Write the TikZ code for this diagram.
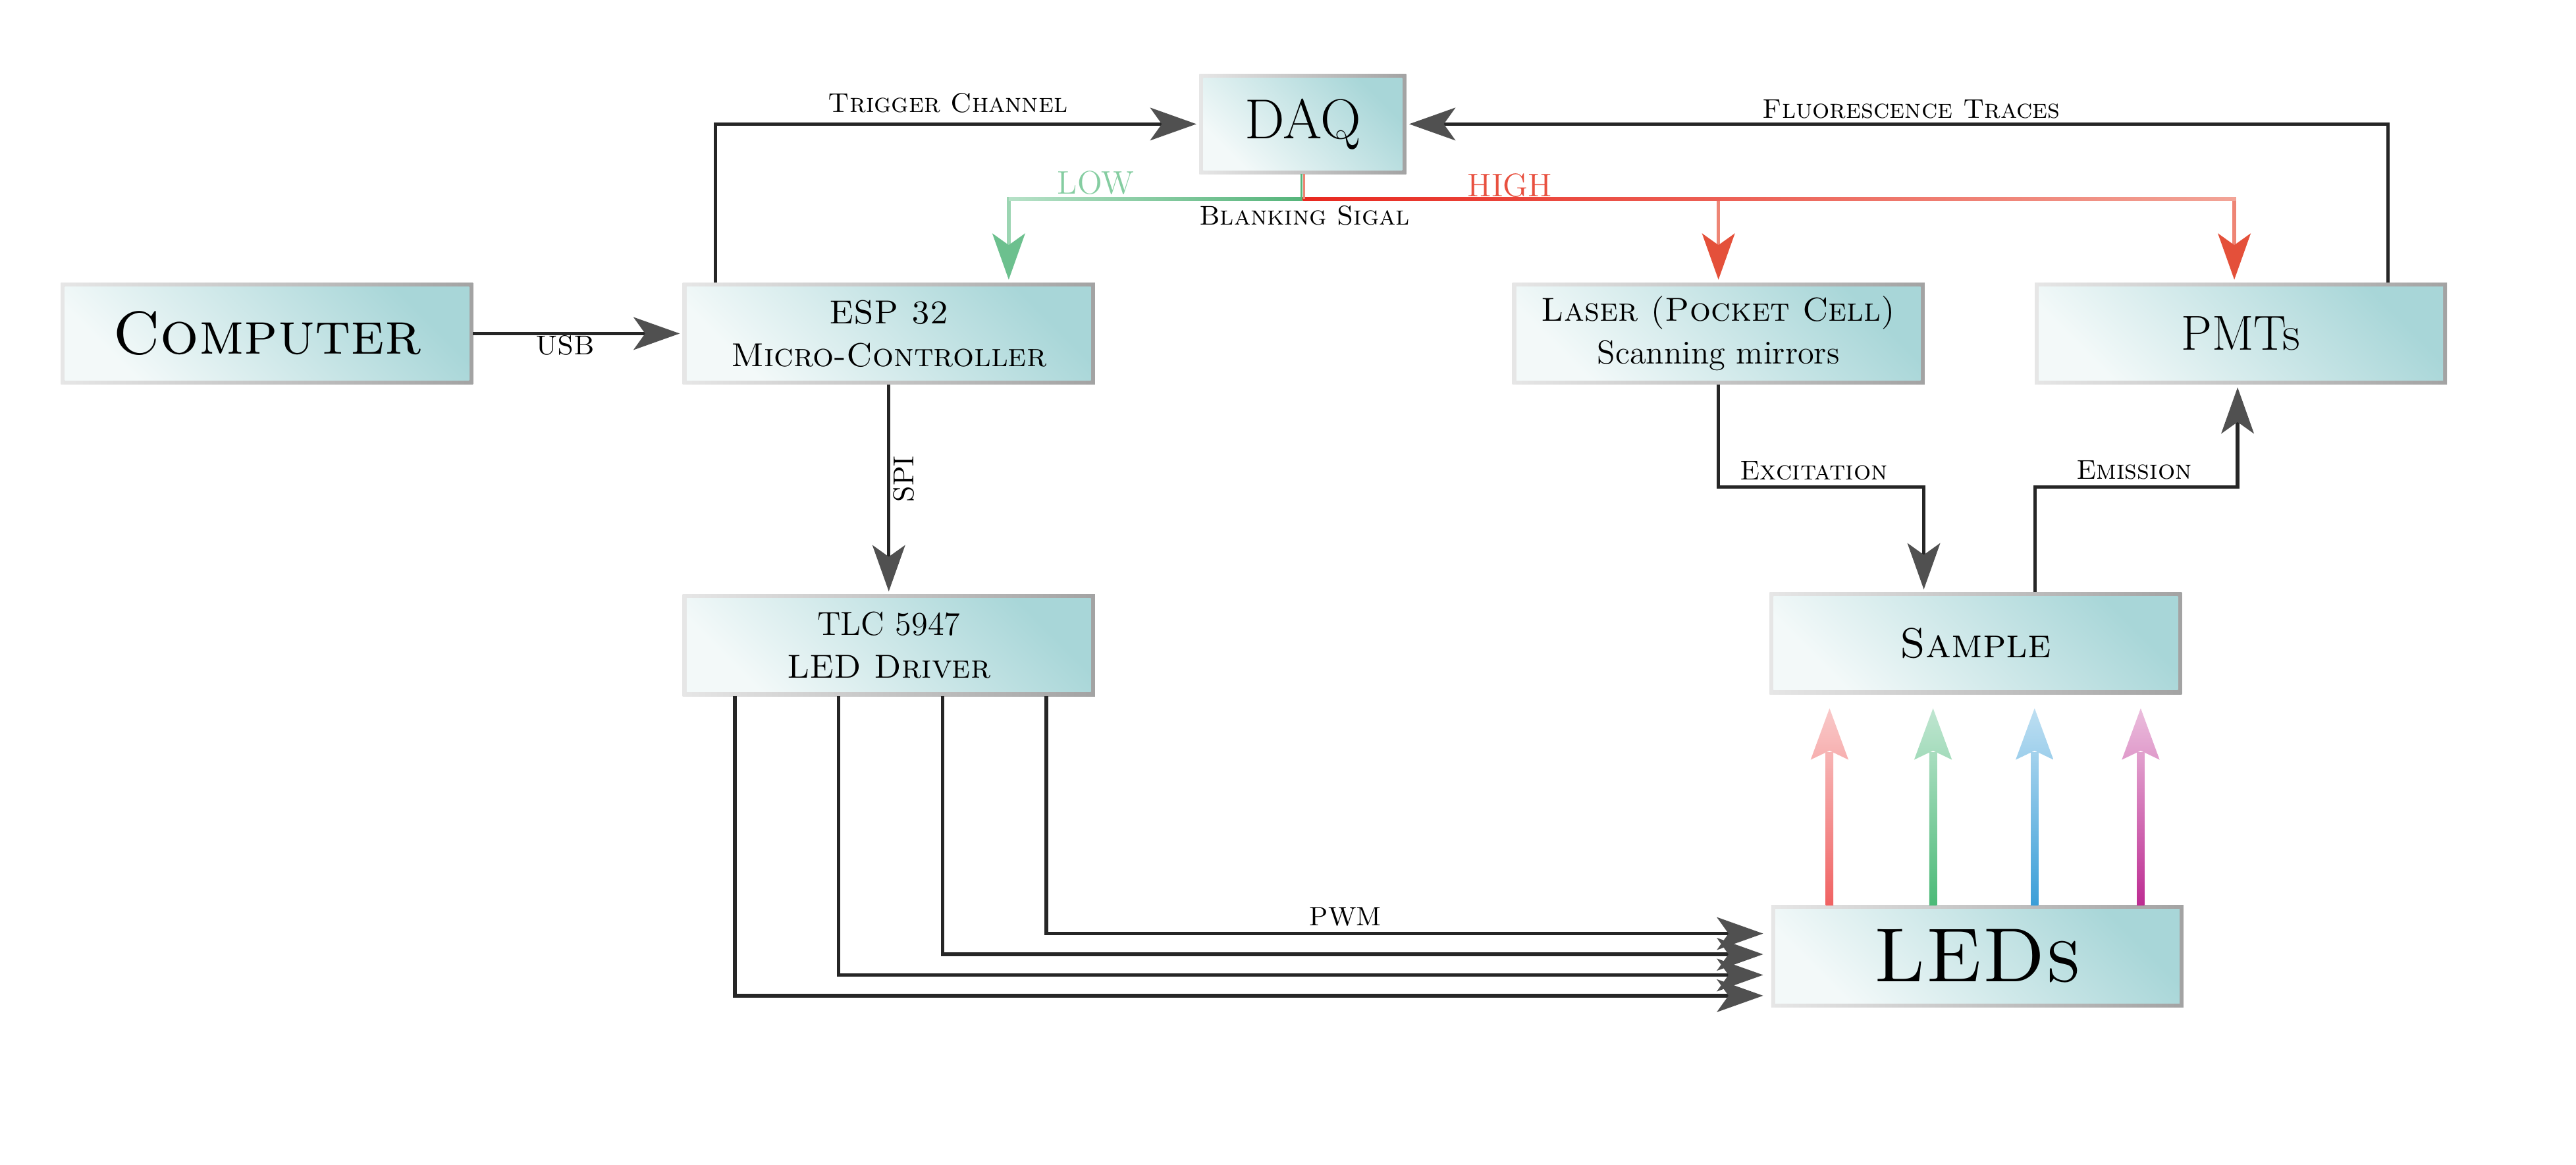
\documentclass[tikz,border=0pt]{standalone}
\usetikzlibrary{arrows.meta,calc}

\definecolor{rimL}{HTML}{E6E6E6}
\definecolor{rimR}{HTML}{A3A3A3}
\definecolor{fillL}{HTML}{F3F9F9}
\definecolor{fillR}{HTML}{A8D6D8}
\definecolor{tipgray}{HTML}{505050}
\definecolor{busgreen}{HTML}{55B47A}
\definecolor{busgreenl}{HTML}{B6E1C7}
\definecolor{dropgreen}{HTML}{9BD5B2}
\definecolor{tipgreen}{HTML}{6CC08E}
\definecolor{txtgreen}{HTML}{85CDA1}
\definecolor{busred}{HTML}{E8281F}
\definecolor{busredl}{HTML}{F2A497}
\definecolor{dropred}{HTML}{EE8575}
\definecolor{tipred}{HTML}{E4503A}
\definecolor{txtred}{HTML}{E8503F}
\definecolor{ledR}{HTML}{F06262}
\definecolor{ledRl}{HTML}{F9C9C9}
\definecolor{ledG}{HTML}{4BBA77}
\definecolor{ledGl}{HTML}{C0E6D1}
\definecolor{ledB}{HTML}{3A9ED8}
\definecolor{ledBl}{HTML}{BEDFF2}
\definecolor{ledM}{HTML}{BD2C92}
\definecolor{ledMl}{HTML}{EBBEDD}

\tikzset{
    box/.style={rectangle, minimum width=5.02cm, minimum height=1.24cm,
        inner sep=0pt, outer sep=0pt, align=center, fill=white,
        font=\fontsize{11.5}{14.9}\selectfont,
        path picture={
            \shade[left color=rimL, right color=rimR]
                (path picture bounding box.south west) rectangle (path picture bounding box.north east);
            \shade[bottom color=fillL, top color=fillR, shading angle=-45]
                ([xshift=1.4pt,yshift=1.4pt]path picture bounding box.south west)
                rectangle ([xshift=-1.4pt,yshift=-1.4pt]path picture bounding box.north east);
        }},
    conn/.style={line width=1.2pt, draw=black!85, shorten >=1pt,
        -{Stealth[length=16pt, width=11.3pt, inset=4pt, color=tipgray]}},
    greenconn/.style={conn, draw=dropgreen,
        -{Stealth[length=16pt, width=11.3pt, inset=4pt, color=tipgreen]}},
    redconn/.style={conn, draw=dropred,
        -{Stealth[length=16pt, width=11.3pt, inset=4pt, color=tipred]}},
    lbl/.style={font=\fontsize{9.4}{11.3}\selectfont\scshape, inner sep=0pt, anchor=base},
}

\begin{document}
\begin{tikzpicture}[x=0.02cm, y=-0.02cm]
    \useasboundingbox (0,0) rectangle (1568,709);

    % blocks
    \node[box, font=\fontsize{21}{25}\selectfont\scshape] (computer) at (162.5,203) {Computer};
    \node[box] (esp) at (541,203) {\textsc{ESP 32}\\\textsc{Micro-Controller}};
    \node[box, minimum width=2.52cm, minimum height=1.22cm,
        font=\fontsize{19.5}{23}\selectfont] (daq) at (793,75.5) {DAQ};
    \node[box] (laser) at (1046,203) {\textsc{Laser (Pocket Cell)}\\Scanning mirrors};
    \node[box, font=\fontsize{17}{20}\selectfont] (pmts) at (1364,203) {PMTs};
    \node[box] (tlc) at (541,392.7) {TLC 5947\\\textsc{LED Driver}};
    \node[box, font=\fontsize{14.5}{17}\selectfont\scshape] (sample) at (1202.6,391.5) {Sample};
    \node[box, font=\fontsize{26.5}{30}\selectfont\scshape] (leds) at (1203.6,582) {LEDs};

    % data paths
    \draw[conn] (computer.east) -- (esp.west);
    \draw[conn] ($(esp.north west)+(20,0)$) |- (daq.west);
    \draw[conn] ($(pmts.north east)+(-36,0)$) |- (daq.east);
    \draw[conn] (esp.south) -- (tlc.north);
    \draw[conn] (laser.south) -- ++(0,62.5) -| ($(sample.north)+(-31.6,0)$);
    \draw[conn] ($(sample.north)+(36,0)$) -- ++(0,-64) -| ($(pmts.south)+(-2,0)$);

    % blanking signal
    \coordinate (bus) at ($(daq.south)+(0,15)$);
    \draw[greenconn] (bus) -| ($(esp.north)+(73,0)$);
    \draw[redconn] (bus) -| (laser.north);
    \draw[redconn] (bus) -| ($(pmts.north)+(-4,0)$);
    \shade[left color=busgreenl, right color=busgreen] ($(bus)+(-179,-1)$) rectangle ($(bus)+(0,1)$);
    \shade[left color=busred, right color=busredl] ($(bus)+(0,-1)$) rectangle ($(bus)+(568,1)$);
    \draw[line width=0.7pt, busgreen] ($(daq.south)+(-0.7,0)$) -- ($(bus)+(-0.7,0)$);
    \draw[line width=0.7pt, dropred] ($(daq.south)+(0.7,0)$) -- ($(bus)+(0.7,0)$);

    % PWM channels
    \foreach \i in {0,...,3}
        \draw[conn, shorten >=2.8pt] ($(tlc.south west)+({31.8+63.2*\i},0)$) |- ($(leds.west)+(0,{24-12.6*\i})$);

    % LED light
    \foreach \dx/\cA/\cB in {35.5/ledR/ledRl, 98.5/ledG/ledGl, 160.3/ledB/ledBl, 224.9/ledM/ledMl} {
        \coordinate (lb) at ($(leds.north west)+(\dx,0)$);
        \coordinate (lt) at ($(lb |- sample.south)+(0,8.6)$);
        \shade[bottom color=\cA, top color=\cB!80!\cA] ($(lb)+(-2.3,0)$) rectangle ($(lt)+(2.3,27)$);
        \shade[bottom color=\cB!75!\cA, top color=\cB] (lt) -- ($(lt)+(-11.5,31.3)$)
            -- ($(lt)+(0,25.8)$) -- ($(lt)+(11.5,31.3)$) -- cycle;
    }

    % labels
    \node[lbl] (trig) at (577,68.4) {Trigger Channel};
    \node[lbl] (fluo) at (1163.5,71.8) {Fluorescence Traces};
    \node[lbl] (usb) at (344,216) {USB};
    \node[lbl, font=\fontsize{11.3}{13}\selectfont, text=txtgreen] (low) at (667,118) {LOW};
    \node[lbl, font=\fontsize{11.3}{13}\selectfont, text=txtred] (high) at (919,119.5) {HIGH};
    \node[lbl] (blank) at (794,137) {Blanking Sigal};
    \node[lbl, font=\fontsize{10}{12}\selectfont, rotate=90, anchor=center] (spi) at (550,291.5) {SPI};
    \node[lbl] (exc) at (1104,292) {Excitation};
    \node[lbl] (emi) at (1299,291.5) {Emission};
    \node[lbl, font=\fontsize{9.2}{11}\selectfont] (pwm) at (819,563.3) {PWM};
\end{tikzpicture}
\end{document}
